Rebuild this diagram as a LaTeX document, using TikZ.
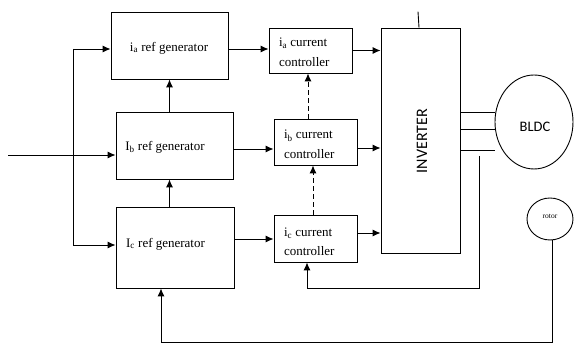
\documentclass[tikz,border=0pt]{standalone}
\usepackage{fontspec}
\setmainfont{Liberation Serif}
\newfontfamily\calib{Carlito}
\usetikzlibrary{arrows.meta,shapes.geometric}
\begin{document}
\begin{tikzpicture}[x=1pt,y=-1pt,
  line width=0.9pt,
  box/.style={draw,rectangle,inner sep=0pt},
  arr/.style={-{Latex[length=8pt,width=7pt]}},
  dsh/.style={arr,dash pattern=on 5pt off 3pt},
  lbl/.style={font=\fontsize{13}{19.5}\selectfont,inner sep=0pt},
  cclbl/.style={lbl,align=left,anchor=west}]
\useasboundingbox (0,0) rectangle (574,344);
% boxes
\node[box,minimum width=117pt,minimum height=67pt] (iagen) at (169.5,45.5) {};
\node[box,minimum width=117pt,minimum height=67pt] (ibgen) at (174.5,145.5) {};
\node[box,minimum width=118pt,minimum height=81pt] (icgen) at (175,247.5) {};
\node[box,minimum width=83pt,minimum height=45pt] (iacc) at (310.5,50.5) {};
\node[box,minimum width=83pt,minimum height=46pt] (ibcc) at (315.5,142) {};
\node[box,minimum width=83pt,minimum height=47pt] (iccc) at (315.5,238.5) {};
\node[box,minimum width=79pt,minimum height=225pt] (inv) at (420.5,140.5) {};
\node[draw,ellipse,minimum width=78pt,minimum height=94pt,inner sep=0pt] (bldc) at (534,122) {};
\node[draw,ellipse,minimum width=46pt,minimum height=42pt,inner sep=0pt] (rotor) at (550,219) {};
% labels
\node[lbl] (tiagen) at (169,48) {i\textsubscript{a} ref generator};
\node[lbl] (tibgen) at (165,147) {I\textsubscript{b} ref generator};
\node[lbl] (ticgen) at (165.5,244) {I\textsubscript{c} ref generator};
\node[cclbl] (tiacc) at ([xshift=10pt,yshift=-2pt]iacc.west) {i\textsubscript{a} current\\controller};
\node[cclbl] (tibcc) at ([xshift=10pt,yshift=-2.5pt]ibcc.west) {i\textsubscript{b} current\\controller};
\node[cclbl] (ticcc) at ([xshift=10pt,yshift=-3.5pt]iccc.west) {i\textsubscript{c} current\\controller};
\node[font=\calib\fontsize{16}{16}\selectfont,rotate=90,inner sep=0pt] (tinv) at (422,141) {INVERTER};
\node[font=\calib\fontsize{14.5}{14.5}\selectfont,inner sep=0pt] (tbldc) at (535,127) {BLDC};
\node[font=\fontsize{7.5}{7.5}\selectfont,inner sep=0pt] (trotor) at (550,216) {rotor};
% input and branch
\coordinate (in) at (8,155);
\draw[arr] (in) -- ([yshift=-9.5pt]ibgen.west);
\coordinate (bt) at (73,49);
\coordinate (bb) at (73,245);
\draw (bt) -- (bb);
\draw[arr] (bt) -- (bt -| iagen.west);
\draw[arr] (bb) -- (bb -| icgen.west);
% generator chain
\draw[arr] (iagen.south |- ibgen.north) -- (iagen.south);
\draw[arr] (iagen.south |- icgen.north) -- (iagen.south |- ibgen.south);
% generators to controllers
\draw[arr] ([yshift=-3.5pt]iagen.east) -- ([yshift=-3.5pt]iagen.east -| iacc.west);
\draw[arr] ([yshift=-3.5pt]ibgen.east) -- ([yshift=-3.5pt]ibgen.east -| ibcc.west);
\draw[arr] ([yshift=8.5pt]icgen.east) -- ([yshift=8.5pt]icgen.east -| iccc.west);
% controllers to inverter
\draw[arr] (iacc.east) -- (iacc.east -| inv.west);
\draw[arr] ([yshift=-6pt]ibcc.east) -- ([yshift=-6pt]ibcc.east -| inv.west);
\draw[arr] ([yshift=5.5pt]iccc.east) -- ([yshift=5.5pt]iccc.east -| inv.west);
% dashed
\draw[dsh] ([xshift=-7.5pt]ibcc.north) -- ([xshift=-7.5pt]ibcc.north |- iacc.south);
\draw[dsh] ([xshift=-2.5pt]iccc.north) -- ([xshift=-2.5pt]iccc.north |- ibcc.south);
% inverter to motor
\draw ([yshift=28.5pt]inv.east) -- ([yshift=28.5pt]inv.east -| bldc.west);
\draw ([yshift=11.5pt]inv.east) -- ([yshift=11.5pt]inv.east -| bldc.west);
\draw ([yshift=-9.5pt]inv.east) -- ([yshift=-9.5pt]inv.east -| bldc.west);
% inverter top supply
\draw ([xshift=-1.5pt]inv.north) -- ++(-1,-16);
% current feedback
\coordinate (fb) at (479,156);
\draw[arr] (fb) -- (fb |- icgen.south) -| ([xshift=-8.5pt]iccc.south);
% rotor feedback
\coordinate (rb) at (552,342);
\draw[arr] ([xshift=2pt]rotor.south) -- (rb) -| ([xshift=-14pt]icgen.south);
\end{tikzpicture}
\end{document}
